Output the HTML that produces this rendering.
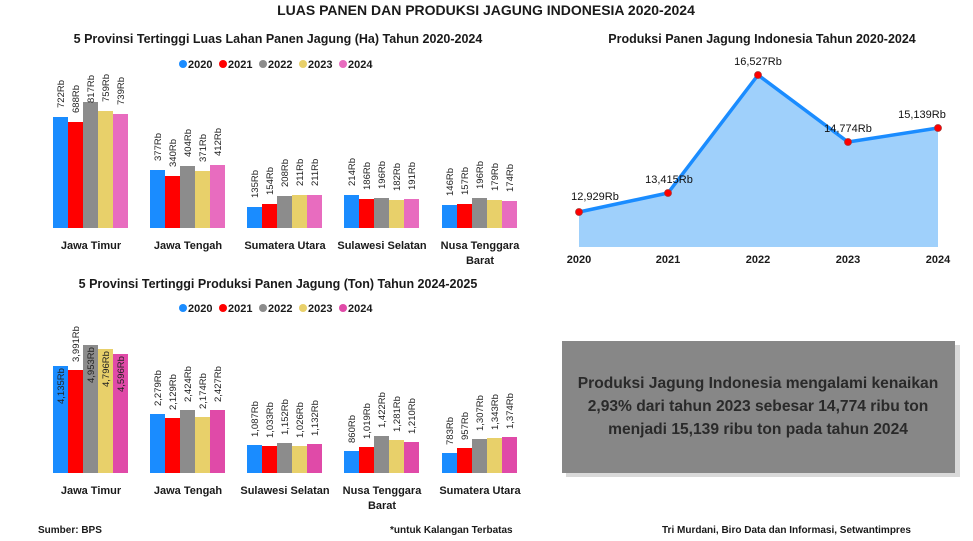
<!DOCTYPE html>
<html><head><meta charset="utf-8"><style>
body{margin:0;background:#fff}
svg{display:block;font-family:"Liberation Sans",sans-serif}
.b{font-weight:bold;fill:#1a1a1a}
.v{font-size:9.5px;fill:#222}
</style></head><body>
<svg width="973" height="541" viewBox="0 0 973 541">
<text x="486" y="15" text-anchor="middle" class="b" font-size="14">LUAS PANEN DAN PRODUKSI JAGUNG INDONESIA 2020-2024</text>
<text x="278" y="43" text-anchor="middle" class="b" font-size="12.5">5 Provinsi Tertinggi Luas Lahan Panen Jagung (Ha) Tahun 2020-2024</text>
<text x="278" y="288" text-anchor="middle" class="b" font-size="12.5">5 Provinsi Tertinggi Produksi Panen Jagung (Ton) Tahun 2024-2025</text>
<text x="762" y="43" text-anchor="middle" class="b" font-size="12.5">Produksi Panen Jagung Indonesia Tahun 2020-2024</text>

<g font-size="11" class="b">
<circle cx="183" cy="64" r="4" fill="#1a8cff"/><text x="188" y="68" class="b">2020</text>
<circle cx="223" cy="64" r="4" fill="#ff0000"/><text x="228" y="68" class="b">2021</text>
<circle cx="263" cy="64" r="4" fill="#8c8c8c"/><text x="268" y="68" class="b">2022</text>
<circle cx="303" cy="64" r="4" fill="#e8d06a"/><text x="308" y="68" class="b">2023</text>
<circle cx="343" cy="64" r="4" fill="#e86cbf"/><text x="348" y="68" class="b">2024</text>
<circle cx="183" cy="308" r="4" fill="#1a8cff"/><text x="188" y="312" class="b">2020</text>
<circle cx="223" cy="308" r="4" fill="#ff0000"/><text x="228" y="312" class="b">2021</text>
<circle cx="263" cy="308" r="4" fill="#8c8c8c"/><text x="268" y="312" class="b">2022</text>
<circle cx="303" cy="308" r="4" fill="#e8d06a"/><text x="308" y="312" class="b">2023</text>
<circle cx="343" cy="308" r="4" fill="#e04aa8"/><text x="348" y="312" class="b">2024</text>
</g>

<g>
<rect x="53" y="117" width="15" height="111" fill="#1a8cff"/><rect x="68" y="122" width="15" height="106" fill="#f00"/><rect x="83" y="102" width="15" height="126" fill="#8c8c8c"/><rect x="98" y="111" width="15" height="117" fill="#e8d06a"/><rect x="113" y="114" width="15" height="114" fill="#e86cbf"/>
<rect x="150" y="170" width="15" height="58" fill="#1a8cff"/><rect x="165" y="176" width="15" height="52" fill="#f00"/><rect x="180" y="166" width="15" height="62" fill="#8c8c8c"/><rect x="195" y="171" width="15" height="57" fill="#e8d06a"/><rect x="210" y="165" width="15" height="63" fill="#e86cbf"/>
<rect x="247" y="207" width="15" height="21" fill="#1a8cff"/><rect x="262" y="204" width="15" height="24" fill="#f00"/><rect x="277" y="196" width="15" height="32" fill="#8c8c8c"/><rect x="292" y="195" width="15" height="33" fill="#e8d06a"/><rect x="307" y="195" width="15" height="33" fill="#e86cbf"/>
<rect x="344" y="195" width="15" height="33" fill="#1a8cff"/><rect x="359" y="199" width="15" height="29" fill="#f00"/><rect x="374" y="198" width="15" height="30" fill="#8c8c8c"/><rect x="389" y="200" width="15" height="28" fill="#e8d06a"/><rect x="404" y="199" width="15" height="29" fill="#e86cbf"/>
<rect x="442" y="205" width="15" height="23" fill="#1a8cff"/><rect x="457" y="204" width="15" height="24" fill="#f00"/><rect x="472" y="198" width="15" height="30" fill="#8c8c8c"/><rect x="487" y="200" width="15" height="28" fill="#e8d06a"/><rect x="502" y="201" width="15" height="27" fill="#e86cbf"/>
</g>
<g class="v">
<text transform="translate(64,108) rotate(-90)">722Rb</text><text transform="translate(79,113) rotate(-90)">688Rb</text><text transform="translate(94,103) rotate(-90)">817Rb</text><text transform="translate(109,102) rotate(-90)">759Rb</text><text transform="translate(124,105) rotate(-90)">739Rb</text>
<text transform="translate(161,161) rotate(-90)">377Rb</text><text transform="translate(176,167) rotate(-90)">340Rb</text><text transform="translate(191,157) rotate(-90)">404Rb</text><text transform="translate(206,162) rotate(-90)">371Rb</text><text transform="translate(221,156) rotate(-90)">412Rb</text>
<text transform="translate(258,198) rotate(-90)">135Rb</text><text transform="translate(273,195) rotate(-90)">154Rb</text><text transform="translate(288,187) rotate(-90)">208Rb</text><text transform="translate(303,186) rotate(-90)">211Rb</text><text transform="translate(318,186) rotate(-90)">211Rb</text>
<text transform="translate(355,186) rotate(-90)">214Rb</text><text transform="translate(370,190) rotate(-90)">186Rb</text><text transform="translate(385,189) rotate(-90)">196Rb</text><text transform="translate(400,191) rotate(-90)">182Rb</text><text transform="translate(415,190) rotate(-90)">191Rb</text>
<text transform="translate(453,196) rotate(-90)">146Rb</text><text transform="translate(468,195) rotate(-90)">157Rb</text><text transform="translate(483,189) rotate(-90)">196Rb</text><text transform="translate(498,191) rotate(-90)">179Rb</text><text transform="translate(513,192) rotate(-90)">174Rb</text>
</g>
<g class="b" font-size="11" text-anchor="middle">
<text x="91" y="249">Jawa Timur</text><text x="188" y="249">Jawa Tengah</text><text x="285" y="249">Sumatera Utara</text><text x="382" y="249">Sulawesi Selatan</text><text x="480" y="249">Nusa Tenggara</text><text x="480" y="264">Barat</text>
</g>

<g>
<rect x="53" y="366" width="15" height="107" fill="#1a8cff"/><rect x="68" y="370" width="15" height="103" fill="#f00"/><rect x="83" y="345" width="15" height="128" fill="#8c8c8c"/><rect x="98" y="349" width="15" height="124" fill="#e8d06a"/><rect x="113" y="354" width="15" height="119" fill="#e04aa8"/>
<rect x="150" y="414" width="15" height="59" fill="#1a8cff"/><rect x="165" y="418" width="15" height="55" fill="#f00"/><rect x="180" y="410" width="15" height="63" fill="#8c8c8c"/><rect x="195" y="417" width="15" height="56" fill="#e8d06a"/><rect x="210" y="410" width="15" height="63" fill="#e04aa8"/>
<rect x="247" y="445" width="15" height="28" fill="#1a8cff"/><rect x="262" y="446" width="15" height="27" fill="#f00"/><rect x="277" y="443" width="15" height="30" fill="#8c8c8c"/><rect x="292" y="446" width="15" height="27" fill="#e8d06a"/><rect x="307" y="444" width="15" height="29" fill="#e04aa8"/>
<rect x="344" y="451" width="15" height="22" fill="#1a8cff"/><rect x="359" y="447" width="15" height="26" fill="#f00"/><rect x="374" y="436" width="15" height="37" fill="#8c8c8c"/><rect x="389" y="440" width="15" height="33" fill="#e8d06a"/><rect x="404" y="442" width="15" height="31" fill="#e04aa8"/>
<rect x="442" y="453" width="15" height="20" fill="#1a8cff"/><rect x="457" y="448" width="15" height="25" fill="#f00"/><rect x="472" y="439" width="15" height="34" fill="#8c8c8c"/><rect x="487" y="438" width="15" height="35" fill="#e8d06a"/><rect x="502" y="437" width="15" height="36" fill="#e04aa8"/>
</g>
<g class="v">
<text transform="translate(64,404) rotate(-90)">4,135Rb</text><text transform="translate(79,362) rotate(-90)">3,991Rb</text><text transform="translate(94,383) rotate(-90)">4,953Rb</text><text transform="translate(109,387) rotate(-90)">4,796Rb</text><text transform="translate(124,392) rotate(-90)">4,596Rb</text>
<text transform="translate(161,406) rotate(-90)">2,279Rb</text><text transform="translate(176,410) rotate(-90)">2,129Rb</text><text transform="translate(191,402) rotate(-90)">2,424Rb</text><text transform="translate(206,409) rotate(-90)">2,174Rb</text><text transform="translate(221,402) rotate(-90)">2,427Rb</text>
<text transform="translate(258,437) rotate(-90)">1,087Rb</text><text transform="translate(273,438) rotate(-90)">1,033Rb</text><text transform="translate(288,435) rotate(-90)">1,152Rb</text><text transform="translate(303,438) rotate(-90)">1,026Rb</text><text transform="translate(318,436) rotate(-90)">1,132Rb</text>
<text transform="translate(355,443) rotate(-90)">860Rb</text><text transform="translate(370,439) rotate(-90)">1,019Rb</text><text transform="translate(385,428) rotate(-90)">1,422Rb</text><text transform="translate(400,432) rotate(-90)">1,281Rb</text><text transform="translate(415,434) rotate(-90)">1,210Rb</text>
<text transform="translate(453,445) rotate(-90)">783Rb</text><text transform="translate(468,440) rotate(-90)">957Rb</text><text transform="translate(483,431) rotate(-90)">1,307Rb</text><text transform="translate(498,430) rotate(-90)">1,343Rb</text><text transform="translate(513,429) rotate(-90)">1,374Rb</text>
</g>
<g class="b" font-size="11" text-anchor="middle">
<text x="91" y="494">Jawa Timur</text><text x="188" y="494">Jawa Tengah</text><text x="285" y="494">Sulawesi Selatan</text><text x="382" y="494">Nusa Tenggara</text><text x="382" y="509">Barat</text><text x="480" y="494">Sumatera Utara</text>
</g>

<polygon points="579,212 668,193 758,75 848,142 938,128 938,247 579,247" fill="#9fd0fb"/>
<polyline points="579,212 668,193 758,75 848,142 938,128" fill="none" stroke="#1a8cff" stroke-width="3.5" stroke-linejoin="round"/>
<g fill="#f00" stroke="#a33" stroke-width="0.8">
<circle cx="579" cy="212" r="3.5"/><circle cx="668" cy="193" r="3.5"/><circle cx="758" cy="75" r="3.5"/><circle cx="848" cy="142" r="3.5"/><circle cx="938" cy="128" r="3.5"/>
</g>
<g font-size="11" fill="#111" text-anchor="middle">
<text x="595" y="200">12,929Rb</text><text x="669" y="183">13,415Rb</text><text x="758" y="65">16,527Rb</text><text x="848" y="132">14,774Rb</text><text x="922" y="118">15,139Rb</text>
</g>
<g class="b" font-size="11" text-anchor="middle">
<text x="579" y="263">2020</text><text x="668" y="263">2021</text><text x="758" y="263">2022</text><text x="848" y="263">2023</text><text x="938" y="263">2024</text>
</g>

<rect x="566" y="345" width="394" height="132" fill="#000" opacity="0.15"/>
<rect x="562" y="341" width="393" height="132" fill="#878787"/>
<g class="b" font-size="15.6" text-anchor="middle">
<text x="758" y="388" fill="#2a2a2a">Produksi Jagung Indonesia mengalami kenaikan</text>
<text x="758" y="411" fill="#2a2a2a">2,93% dari tahun 2023 sebesar 14,774 ribu ton</text>
<text x="758" y="434" fill="#2a2a2a">menjadi 15,139 ribu ton pada tahun 2024</text>
</g>

<g class="b" font-size="10">
<text x="38" y="533">Sumber: BPS</text>
<text x="390" y="533">*untuk Kalangan Terbatas</text>
<text x="662" y="533">Tri Murdani, Biro Data dan Informasi, Setwantimpres</text>
</g>
</svg>
</body></html>
